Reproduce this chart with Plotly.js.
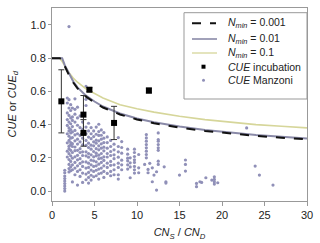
<!DOCTYPE html>
<html><head><meta charset="utf-8">
<script src="https://cdn.plot.ly/plotly-3.0.1.min.js"></script>
<style>html,body{margin:0;padding:0;background:#fff}#chart{width:320px;height:243px}</style>
</head><body><div id="chart"></div>
<script>
// Model curves (CN_S/CN_D vs CUE)
const curveX = [0, 0.9, 1.2, 1.5, 2, 2.5, 3, 4, 5, 6, 8, 10, 12, 15, 18, 21, 24, 27, 30];
const cue001 = [0.8, 0.8, 0.795, 0.752, 0.698, 0.653, 0.618, 0.568, 0.533, 0.503, 0.461, 0.431, 0.408, 0.382, 0.362, 0.346, 0.332, 0.321, 0.311];
const cue01  = [0.8, 0.8, 0.8, 0.758, 0.704, 0.659, 0.624, 0.574, 0.539, 0.509, 0.467, 0.437, 0.414, 0.388, 0.368, 0.352, 0.338, 0.327, 0.317];
const cue1   = [0.8, 0.8, 0.78, 0.755, 0.712, 0.68, 0.655, 0.615, 0.585, 0.56, 0.52, 0.495, 0.475, 0.45, 0.43, 0.415, 0.4, 0.39, 0.38];

// CUE incubation
const incX   = [1.1, 3.7, 3.7, 4.4, 7.3, 11.4];
const incY   = [0.54, 0.46, 0.35, 0.61, 0.41, 0.605];
const incErr = [0.19, 0.115, 0.08, 0.012, 0.10, 0.015];

// Legend labels
const legendLabels = ['<i>N</i><sub><i>min</i></sub> = 0.001', '<i>N</i><sub><i>min</i></sub> = 0.01',
  '<i>N</i><sub><i>min</i></sub> = 0.1', '<i>CUE</i> incubation', '<i>CUE</i> Manzoni'];

// CUE Manzoni (columns of points)
const manzoniColX = [1.5, 1.8, 2.0, 2.2, 2.4, 2.7, 3.0, 3.3, 3.6, 4.0, 4.3, 4.6, 4.9, 5.2, 5.5, 5.8, 6.1, 6.5, 6.9, 7.3, 7.8, 8.2, 8.9, 9.2, 9.7, 10.2, 10.9, 11.1, 11.3, 11.5, 11.8, 12.0, 12.3, 12.5, 13.2, 13.4, 15.0, 15.7, 17.0, 17.4, 17.6, 18.1, 18.8, 19.1, 19.5, 22.9, 23.9, 24.4, 26.0];
const manzoniColY = [
  [0.0, 0.015, 0.03, 0.045, 0.06, 0.075, 0.09, 0.11, 0.125],
  [0.47, 0.53, 0.56, 0.43, 0.395, 0.345, 0.29, 0.24, 0.205],
  [0.55, 0.5, 0.455, 0.415, 0.38, 0.362, 0.33, 0.305, 0.27, 0.255, 0.225, 0.19, 0.16, 0.135, 0.115, 0.99],
  [0.52, 0.485, 0.44, 0.405, 0.37, 0.35, 0.318, 0.292, 0.278, 0.245, 0.212, 0.178, 0.146, 0.122],
  [0.5, 0.446, 0.425, 0.388, 0.356, 0.322, 0.285, 0.268, 0.232, 0.198, 0.158, 0.128, 0.055],
  [0.555, 0.492, 0.463, 0.415, 0.365, 0.338, 0.302, 0.265, 0.243, 0.206, 0.172, 0.138, 0.098],
  [0.505, 0.44, 0.396, 0.345, 0.312, 0.283, 0.245, 0.215, 0.188, 0.152, 0.118, 0.036],
  [0.452, 0.382, 0.335, 0.296, 0.255, 0.232, 0.195, 0.166, 0.128, 0.088],
  [0.415, 0.372, 0.318, 0.278, 0.236, 0.214, 0.176, 0.148, 0.108, 0.052],
  [0.63, 0.552, 0.515, 0.385, 0.345, 0.305, 0.275, 0.236, 0.212, 0.175, 0.138, 0.102, 0.068],
  [0.408, 0.362, 0.325, 0.288, 0.262, 0.226, 0.204, 0.168, 0.142, 0.112, 0.082, 0.048],
  [0.382, 0.345, 0.315, 0.276, 0.252, 0.218, 0.186, 0.158, 0.126, 0.095, 0.066],
  [0.362, 0.328, 0.296, 0.272, 0.238, 0.206, 0.182, 0.148, 0.118, 0.086],
  [0.385, 0.342, 0.306, 0.288, 0.255, 0.228, 0.212, 0.176, 0.152, 0.125, 0.092],
  [0.402, 0.358, 0.335, 0.302, 0.272, 0.248, 0.216, 0.195, 0.162, 0.132, 0.104, 0.072],
  [0.368, 0.336, 0.312, 0.284, 0.258, 0.226, 0.198, 0.172, 0.138, 0.108],
  [0.352, 0.318, 0.292, 0.264, 0.242, 0.206, 0.184, 0.152, 0.118, 0.082],
  [0.326, 0.292, 0.258, 0.226, 0.205, 0.168, 0.142, 0.106],
  [0.305, 0.268, 0.238, 0.214, 0.178, 0.155, 0.118, 0.092],
  [0.282, 0.248, 0.218, 0.195, 0.158, 0.128, 0.098],
  [0.322, 0.268, 0.236, 0.204, 0.168, 0.142, 0.098, 0.072],
  [0.298, 0.262, 0.228, 0.186, 0.158, 0.128],
  [0.252, 0.222, 0.198, 0.182, 0.158, 0.132],
  [0.2, 0.17, 0.145, 0.08],
  [0.252, 0.232, 0.208, 0.188, 0.172, 0.148, 0.128, 0.108],
  [0.22, 0.14, 0.11],
  [0.16],
  [0.34, 0.32, 0.3, 0.28, 0.26, 0.24, 0.22, 0.2],
  [0.13, 0.11],
  [0.167],
  [0.14, 0.056],
  [0.096],
  [0.116, 0.006],
  [0.35, 0.31, 0.3, 0.28, 0.26, 0.245, 0.18, 0.16],
  [0.146],
  [0.056, 0.048],
  [0.096],
  [0.187, 0.16, 0.12],
  [0.046, 0.026],
  [0.056],
  [0.052],
  [0.08],
  [0.066],
  [0.086, 0.07, 0.056, 0.042],
  [0.05],
  [0.38],
  [0.15],
  [0.096],
  [0.036]
];

const manzoniX = [], manzoniY = [];
manzoniColX.forEach((x, i) => manzoniColY[i].forEach(y => { manzoniX.push(x); manzoniY.push(y); }));

const COL = {manz: '#9090b8', y1: '#d6d69a', p01: '#8a8aa8', k001: '#111'};

const traces = [
  {x: manzoniX, y: manzoniY, mode: 'markers', type: 'scatter', name: legendLabels[4],
   marker: {color: COL.manz, size: 3.2}, showlegend: false},
  {x: curveX, y: cue1, mode: 'lines', type: 'scatter', name: legendLabels[2],
   line: {color: COL.y1, width: 1.6}, showlegend: false},
  {x: curveX, y: cue01, mode: 'lines', type: 'scatter', name: legendLabels[1],
   line: {color: COL.p01, width: 2}, showlegend: false},
  {x: curveX, y: cue001, mode: 'lines', type: 'scatter', name: legendLabels[0],
   line: {color: COL.k001, width: 2, dash: 'dash'}, showlegend: false},
  {x: incX, y: incY, mode: 'markers', type: 'scatter', name: legendLabels[3],
   marker: {color: '#000', size: 6, symbol: 'square'},
   error_y: {type: 'data', array: incErr, visible: true, color: '#333', thickness: 1, width: 3},
   showlegend: false}
];

// Legend box drawn in paper coordinates (plot area: x 52..307 px, y 8..201 px)
const W = 255, H = 193;
const px = v => (v - 52) / W;
const py = v => (201 - v) / H;
const rowY = [23.3, 39, 53, 66.7, 80.3];
const shapes = [
  {type: 'rect', xref: 'paper', yref: 'paper', x0: px(184), x1: px(307), y0: py(99), y1: py(12.7),
   fillcolor: '#fff', line: {color: '#999', width: 1}, layer: 'above'},
  {type: 'line', xref: 'paper', yref: 'paper', x0: px(192), x1: px(216), y0: py(rowY[0]), y1: py(rowY[0]),
   line: {color: COL.k001, width: 2, dash: 'dash'}},
  {type: 'line', xref: 'paper', yref: 'paper', x0: px(192), x1: px(217), y0: py(rowY[1]), y1: py(rowY[1]),
   line: {color: COL.p01, width: 1.6}},
  {type: 'line', xref: 'paper', yref: 'paper', x0: px(192), x1: px(217), y0: py(rowY[2]), y1: py(rowY[2]),
   line: {color: COL.y1, width: 1.3}},
  {type: 'rect', xref: 'paper', yref: 'paper', x0: px(201.5), x1: px(205.5), y0: py(rowY[3] + 2), y1: py(rowY[3] - 2),
   fillcolor: '#000', line: {width: 0}},
  {type: 'circle', xref: 'paper', yref: 'paper', x0: px(202), x1: px(205), y0: py(rowY[4] + 1.5), y1: py(rowY[4] - 1.5),
   fillcolor: COL.manz, line: {width: 0}}
];

const legFont = {family: 'Liberation Sans, Arial, sans-serif', size: 10.5, color: '#222'};
const annotations = legendLabels.map((t, i) => ({
  text: t, xref: 'paper', yref: 'paper', x: px(225.5), y: py(rowY[i]), xanchor: 'left', yanchor: 'middle',
  showarrow: false, font: legFont
}));

const axisFont = {family: 'Liberation Sans, Arial, sans-serif', size: 11, color: '#222'};
annotations.push({text: '<i>CUE</i> or <i>CUE</i><sub><i>d</i></sub>', xref: 'paper', yref: 'paper',
  x: px(12), y: 0.5, textangle: -90, xanchor: 'center', yanchor: 'middle', showarrow: false, font: axisFont});

const layout = {
  width: 320, height: 243,
  margin: {l: 52, r: 13, t: 8, b: 42},
  paper_bgcolor: '#fff', plot_bgcolor: '#fff',
  font: axisFont,
  showlegend: false,
  shapes: shapes,
  annotations: annotations,
  xaxis: {range: [0, 30], dtick: 5, tick0: 0, showgrid: false, zeroline: false,
    showline: true, linecolor: '#999', linewidth: 1, mirror: true,
    ticks: 'outside', ticklen: 4, tickcolor: '#999', tickfont: axisFont,
    title: {text: '<i>CN</i><sub><i>S</i></sub> / <i>CN</i><sub><i>D</i></sub>', font: axisFont, standoff: 8}},
  yaxis: {range: [-0.06, 1.102], dtick: 0.2, tick0: 0, tickformat: '.1f', showgrid: false, zeroline: false,
    showline: true, linecolor: '#999', linewidth: 1, mirror: true,
    ticks: 'outside', ticklen: 3, tickcolor: '#999', tickfont: axisFont}
};

Plotly.newPlot('chart', traces, layout, {displayModeBar: false, staticPlot: true});
</script></body></html>
